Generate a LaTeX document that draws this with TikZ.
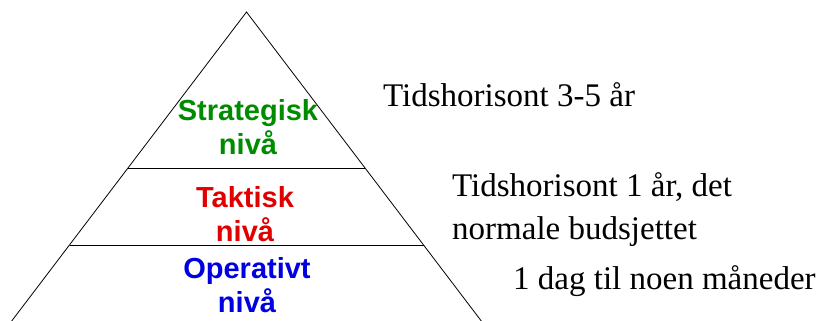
\documentclass[tikz,border=0pt]{standalone}
\usepackage{fontspec}
\setmainfont{Liberation Serif}
\newfontfamily\levelfont{Liberation Sans}
\usepackage{tikz}
\usetikzlibrary{calc}
\definecolor{levelGreen}{HTML}{008C00}
\definecolor{levelRed}{HTML}{E00000}
\definecolor{levelBlue}{HTML}{0000E0}

\begin{document}
\begin{tikzpicture}[
    x=1pt, y=1pt,
    edge/.style={draw=black, line width=0.8pt},
    level/.style={
        anchor=base,
        align=center,
        font=\levelfont\bfseries\fontsize{29}{34}\selectfont,
        inner sep=0pt
    },
    horizon/.style={
        anchor=base west,
        align=left,
        font=\fontsize{33}{43.5}\selectfont,
        inner sep=0pt
    },
]

\useasboundingbox (0,0) rectangle (822,321);
\clip (0,0) rectangle (822,321);

% pyramid outline
\coordinate (apex) at (246.5,309);
\coordinate (baseL) at (-3.5,-20);
\coordinate (baseR) at (496.5,-20);
\draw[edge] (baseL) -- (apex) -- (baseR);

% level dividers
\coordinate (cutAL) at ($(apex)!0.474!(baseL)$);
\coordinate (cutAR) at ($(apex)!0.474!(baseR)$);
\coordinate (cutBL) at ($(apex)!0.708!(baseL)$);
\coordinate (cutBR) at ($(apex)!0.708!(baseR)$);
\draw[edge] (cutAL) -- (cutAR);
\draw[edge] (cutBL) -- (cutBR);

% level names (base = last line)
\node[level, text=levelGreen] (strategic) at (248,166) {Strategisk\\nivå};
\node[level, text=levelRed] (tactical) at (245,79) {Taktisk\\nivå};
\node[level, text=levelBlue] (operative) at (247,8) {Operativt\\nivå};

% time horizons
\node[horizon] (longTerm) at (383,214) {Tidshorisont 3-5 år};
\node[horizon] (midTerm) at (452,81) {Tidshorisont 1 år, det\\normale budsjettet};
\node[horizon] (shortTerm) at (513,31) {1 dag til noen måneder};

\end{tikzpicture}
\end{document}
